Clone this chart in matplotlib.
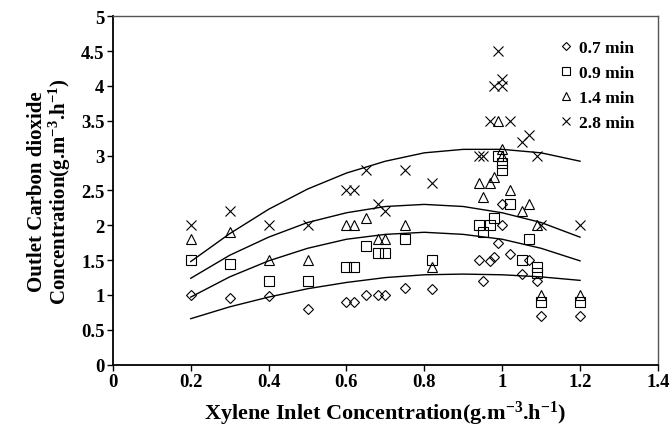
import numpy as np
import matplotlib
matplotlib.use("Agg")
import matplotlib.pyplot as plt

plt.rcParams['font.family'] = ['Liberation Serif', 'DejaVu Serif']
plt.rcParams['font.weight'] = 'bold'
plt.rcParams['mathtext.fontset'] = 'custom'
plt.rcParams['mathtext.rm'] = 'Liberation Serif:bold'
plt.rcParams['mathtext.default'] = 'rm'

# measured points, one list per residence time
x07 = [0.2, 0.3, 0.4, 0.5, 0.6, 0.62, 0.65, 0.68, 0.7, 0.75, 0.82, 0.94, 0.95, 0.97, 0.98, 0.99, 1.0, 1.0, 1.02, 1.05, 1.07, 1.09, 1.1, 1.2]
y07 = [1.0, 0.95, 0.98, 0.8, 0.9, 0.9, 1.0, 1.0, 1.0, 1.1, 1.09, 1.5, 1.2, 1.49, 1.54, 1.75, 2.0, 2.3, 1.59, 1.3, 1.5, 1.2, 0.7, 0.7]

x09 = [0.2, 0.3, 0.4, 0.5, 0.6, 0.62, 0.65, 0.68, 0.7, 0.75, 0.82, 0.94, 0.95, 0.97, 0.98, 0.99, 1.0, 1.0, 1.02, 1.05, 1.07, 1.09, 1.09, 1.1, 1.2]
y09 = [1.5, 1.45, 1.2, 1.2, 1.4, 1.4, 1.7, 1.6, 1.6, 1.8, 1.5, 2.0, 1.9, 2.0, 2.1, 3.0, 2.9, 2.8, 2.3, 1.5, 1.8, 1.4, 1.32, 0.9, 0.9]

x14 = [0.2, 0.3, 0.4, 0.5, 0.6, 0.62, 0.65, 0.68, 0.7, 0.75, 0.82, 0.94, 0.95, 0.97, 0.98, 0.99, 1.0, 1.0, 1.02, 1.05, 1.07, 1.09, 1.1, 1.2]
y14 = [1.8, 1.9, 1.5, 1.5, 2.0, 2.0, 2.1, 1.8, 1.8, 2.0, 1.4, 2.6, 2.4, 2.6, 2.7, 3.5, 3.1, 3.0, 2.5, 2.2, 2.3, 2.0, 1.0, 1.0]

x28 = [0.2, 0.3, 0.4, 0.5, 0.6, 0.62, 0.65, 0.68, 0.7, 0.75, 0.82, 0.94, 0.95, 0.97, 0.98, 0.99, 1.0, 1.0, 1.02, 1.05, 1.07, 1.1, 1.09, 1.2]
y28 = [2.0, 2.2, 2.0, 2.0, 2.5, 2.5, 2.8, 2.3, 2.2, 2.8, 2.6, 3.0, 3.0, 3.5, 4.0, 4.5, 4.0, 4.1, 3.5, 3.2, 3.3, 2.0, 3.0, 2.0]

# trend curves
xfit = [0.2, 0.3, 0.4, 0.5, 0.6, 0.7, 0.8, 0.9, 1.0, 1.1, 1.2]
fit07 = [0.66, 0.83, 0.97, 1.09, 1.18, 1.25, 1.29, 1.30, 1.29, 1.26, 1.21]
fit09 = [0.97, 1.26, 1.49, 1.67, 1.80, 1.87, 1.90, 1.87, 1.80, 1.67, 1.49]
fit14 = [1.24, 1.57, 1.83, 2.04, 2.18, 2.27, 2.30, 2.27, 2.18, 2.04, 1.83]
fit28 = [1.48, 1.88, 2.23, 2.52, 2.75, 2.92, 3.04, 3.09, 3.09, 3.04, 2.92]

labels = ['0.7 min', '0.9 min', '1.4 min', '2.8 min']

fig = plt.figure(figsize=(6.72, 4.27), dpi=100)
ax = fig.add_axes([0.168, 0.1436, 0.811, 0.816])

for yf in [fit07, fit09, fit14, fit28]:
    ax.plot(xfit, yf, color='black', lw=1.0)

mk = dict(linestyle='none', mfc='none', mec='black', mew=0.8, color='black')
ax.plot(x07, y07, marker='D', ms=5, label=labels[0], **mk)
ax.plot(x09, y09, marker='s', ms=6.5, label=labels[1], **mk)
ax.plot(x14, y14, marker='^', ms=6.5, label=labels[2], **mk)
ax.plot(x28, y28, marker='x', ms=7, label=labels[3], **mk)

ax.set_xlim(0, 1.4)
ax.set_ylim(0, 5)
ax.set_xticks(np.arange(0, 1.41, 0.2))
ax.set_xticklabels(['0', '0.2', '0.4', '0.6', '0.8', '1', '1.2', '1.4'])
ax.set_yticks(np.arange(0, 5.01, 0.5))
ax.set_yticklabels(['0', '0.5', '1', '1.5', '2', '2.5', '3', '3.5', '4', '4.5', '5'])
ax.tick_params(axis='both', direction='out', length=4, width=1, labelsize=13.5, pad=2)

for s in ['left', 'bottom']:
    ax.spines[s].set_linewidth(1.3)
for s in ['top', 'right']:
    ax.spines[s].set_linewidth(1.0)
    ax.spines[s].set_color('#555555')

ax.set_xlabel(r'Xylene Inlet Concentration(g.m$^{-3}$.h$^{-1}$)', fontsize=16, fontweight='bold', labelpad=6)
ax.set_ylabel('Outlet Carbon dioxide\n' + r'Concentration(g.m$^{-3}$.h$^{-1}$)', fontsize=15,
              fontweight='bold', labelpad=6, linespacing=1.0, multialignment='center')

ax.legend(loc='upper right', frameon=False, markerscale=0.9, handlelength=0.8,
          handletextpad=0.35, labelspacing=0.52, borderaxespad=0.6, borderpad=0.75,
          prop={'weight': 'bold', 'size': 12.5})

fig.savefig('out.png', dpi=100)
